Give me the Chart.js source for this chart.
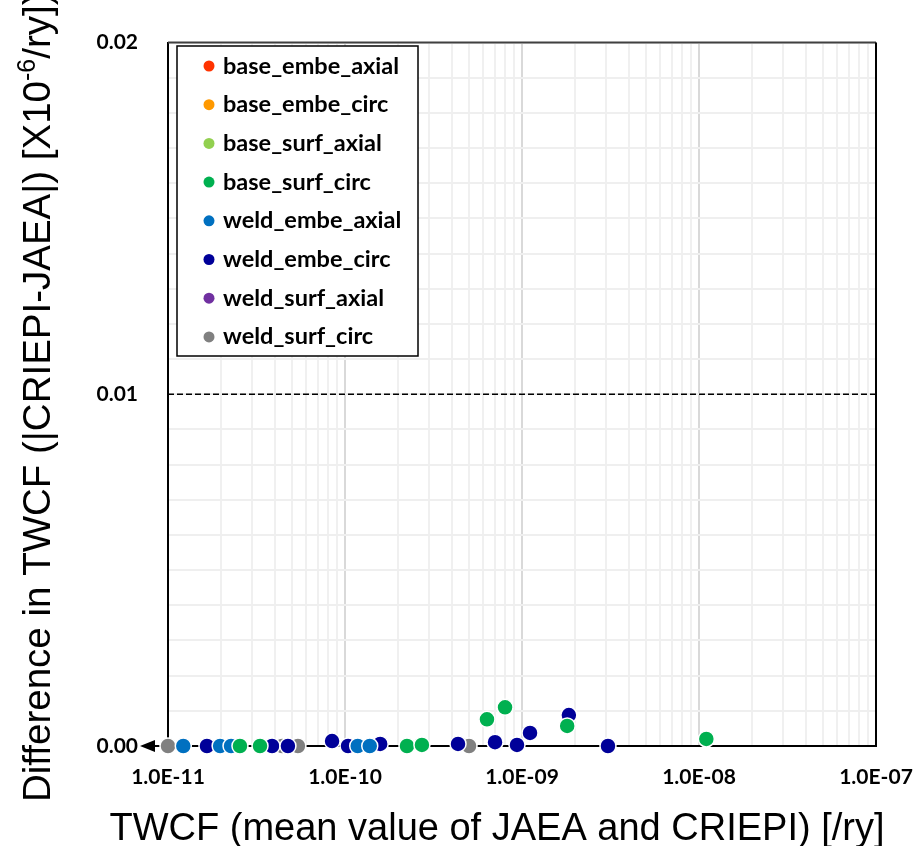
<!DOCTYPE html>
<html>
<head>
<meta charset="utf-8">
<script src="https://cdn.jsdelivr.net/npm/chart.js@4.4.0/dist/chart.umd.min.js"></script>
<style>
  html, body { margin: 0; padding: 0; background: #fff; }
  #wrap { width: 916px; height: 846px; }
</style>
</head>
<body>
<div id="wrap"><canvas id="chart"></canvas></div>
<script>
const seriesNames = [
  'base_embe_axial', 'base_embe_circ', 'base_surf_axial', 'base_surf_circ',
  'weld_embe_axial', 'weld_embe_circ', 'weld_surf_axial', 'weld_surf_circ'
];
const seriesColors = ['#ff3300', '#ff9900', '#92d050', '#00b050', '#0070c0', '#000099', '#7030a0', '#808080'];

// mean TWCF [/ry] and |CRIEPI-JAEA| [x10^-6 /ry] per crack type
const baseEmbeAxialTwcf = [];
const baseEmbeAxialDiff = [];
const baseEmbeCircTwcf = [];
const baseEmbeCircDiff = [];
const baseSurfAxialTwcf = [];
const baseSurfAxialDiff = [];
const baseSurfCircTwcf = [2.55e-11, 3.31e-11, 2.24e-10, 2.72e-10, 6.34e-10, 8.02e-10, 1.80e-9, 1.10e-8];
const baseSurfCircDiff = [0, 0, 0, 0.00003, 0.00076, 0.0011, 0.00057, 0.0002];
const weldEmbeAxialTwcf = [1.22e-11, 1.97e-11, 2.27e-11, 1.18e-10, 1.38e-10];
const weldEmbeAxialDiff = [0, 0, 0, 0, 0];
const weldEmbeCircTwcf = [1.66e-11, 3.87e-11, 4.76e-11, 8.45e-11, 1.04e-10, 1.58e-10, 4.35e-10, 7.04e-10, 9.37e-10, 1.11e-9, 1.84e-9, 3.06e-9];
const weldEmbeCircDiff = [0, 0, 0, 0.00014, 0, 0.00006, 0.00006, 0.00011, 0.00003, 0.00037, 0.00088, 0];
const weldSurfAxialTwcf = [];
const weldSurfAxialDiff = [];
const weldSurfCircTwcf = [1.0e-11, 4.41e-11, 5.42e-11, 5.02e-10];
const weldSurfCircDiff = [0, 0, 0, 0];

const xDecades = [1e-11, 1e-10, 1e-9, 1e-8, 1e-7];
const xTickLabels = ['1.0E-11', '1.0E-10', '1.0E-09', '1.0E-08', '1.0E-07'];
const yLabelValues = [0, 0.01, 0.02];
const yTickLabels = ['0.00', '0.01', '0.02'];

const xTitle = 'TWCF (mean value of JAEA and CRIEPI) [/ry]';
const yTitleParts = [
  { text: 'Difference in TWCF (|CRIEPI-JAEA|) [X10' },
  { text: '-6', sup: true },
  { text: '/ry])' }
];

const allTwcf = [baseEmbeAxialTwcf, baseEmbeCircTwcf, baseSurfAxialTwcf, baseSurfCircTwcf,
  weldEmbeAxialTwcf, weldEmbeCircTwcf, weldSurfAxialTwcf, weldSurfCircTwcf];
const allDiff = [baseEmbeAxialDiff, baseEmbeCircDiff, baseSurfAxialDiff, baseSurfCircDiff,
  weldEmbeAxialDiff, weldEmbeCircDiff, weldSurfAxialDiff, weldSurfCircDiff];

const datasets = seriesNames.map((name, i) => ({
  label: name,
  data: allTwcf[i].map((x, j) => ({ x: x, y: allDiff[i][j] })),
  backgroundColor: seriesColors[i],
  borderColor: '#ffffff',
  pointRadius: 8,
  pointHoverRadius: 8,
  borderWidth: 1.5,
  clip: false
}));

const tickFont = { family: 'Lato', weight: 'bold', size: 21 };
const titleFont = '"Liberation Sans", Arial, sans-serif';

const isDecade = v => xDecades.some(d => Math.abs(v / d - 1) < 1e-6);

const framePlugin = {
  id: 'frame',
  beforeDatasetsDraw(chart) {
    const { ctx, chartArea: a, scales } = chart;
    const y0 = scales.y.getPixelForValue(0);
    const y1 = scales.y.getPixelForValue(0.01);
    ctx.save();
    // dashed reference line at 0.01
    ctx.strokeStyle = '#000';
    ctx.lineWidth = 1.5;
    ctx.setLineDash([6, 3]);
    ctx.beginPath();
    ctx.moveTo(a.left, y1);
    ctx.lineTo(a.right, y1);
    ctx.stroke();
    ctx.setLineDash([]);
    // top and right border
    ctx.lineWidth = 2;
    ctx.strokeStyle = '#404040';
    ctx.beginPath();
    ctx.moveTo(a.left, a.top);
    ctx.lineTo(a.right, a.top);
    ctx.stroke();
    ctx.strokeStyle = '#000';
    ctx.beginPath();
    ctx.moveTo(a.right, a.top);
    ctx.lineTo(a.right, y0 + 1);
    ctx.stroke();
    // x axis with arrow head to the left
    ctx.beginPath();
    ctx.moveTo(a.left - 14, y0);
    ctx.lineTo(a.right, y0);
    ctx.stroke();
    ctx.fillStyle = '#000';
    ctx.beginPath();
    ctx.moveTo(a.left - 28, y0);
    ctx.lineTo(a.left - 13, y0 - 6);
    ctx.lineTo(a.left - 13, y0 + 6);
    ctx.closePath();
    ctx.fill();
    ctx.restore();
  },
  afterDatasetsDraw(chart) {
    const { ctx } = chart;
    ctx.save();
    // legend box
    const bx = 177, by = 46, bw = 241, bh = 310;
    ctx.fillStyle = '#fff';
    ctx.fillRect(bx, by, bw, bh);
    ctx.strokeStyle = '#000';
    ctx.lineWidth = 1.5;
    ctx.strokeRect(bx, by, bw, bh);
    ctx.font = 'bold 23.5px Lato';
    ctx.textBaseline = 'middle';
    ctx.textAlign = 'left';
    chart.data.datasets.forEach((ds, i) => {
      const cy = 66 + i * 38.7;
      ctx.fillStyle = ds.backgroundColor;
      ctx.beginPath();
      ctx.arc(209, cy, 5.5, 0, Math.PI * 2);
      ctx.fill();
      ctx.fillStyle = '#000';
      ctx.fillText(ds.label, 223, cy);
    });

    // axis titles
    ctx.fillStyle = '#000';
    ctx.textBaseline = 'alphabetic';
    ctx.textAlign = 'center';
    ctx.font = '38px ' + titleFont;
    ctx.fillText(xTitle, 497, 840);

    ctx.translate(50, 802);
    ctx.rotate(-Math.PI / 2);
    ctx.textAlign = 'left';
    let x = 0;
    yTitleParts.forEach(p => {
      ctx.font = (p.sup ? '25px ' : '38.5px ') + titleFont;
      ctx.fillText(p.text, x, p.sup ? -15 : 0);
      x += ctx.measureText(p.text).width;
    });
    ctx.restore();
  }
};

new Chart(document.getElementById('chart'), {
  type: 'scatter',
  data: { datasets: datasets },
  plugins: [framePlugin],
  options: {
    responsive: true,
    maintainAspectRatio: false,
    animation: false,
    layout: { padding: { left: 0, right: 40, top: 40, bottom: 0 } },
    plugins: {
      legend: { display: false },
      tooltip: { enabled: false }
    },
    scales: {
      x: {
        type: 'logarithmic',
        min: 1e-11,
        max: 1e-7,
        afterBuildTicks: scale => {
          const ticks = [];
          xDecades.forEach((d, i) => {
            ticks.push({ value: d });
            if (i < xDecades.length - 1) {
              for (let k = 2; k <= 9; k++) ticks.push({ value: d * k });
            }
          });
          scale.ticks = ticks;
        },
        afterFit: scale => {
          scale.height = 100;
          scale.paddingLeft = 0;
          scale.paddingRight = 0;
        },
        border: { display: false },
        grid: {
          drawTicks: false,
          lineWidth: 2,
          color: ctx => (ctx.tick && isDecade(ctx.tick.value)) ? '#d9d9d9' : '#f0f0f0'
        },
        ticks: {
          autoSkip: false,
          maxRotation: 0,
          padding: 19,
          color: '#000',
          font: tickFont,
          callback: v => {
            const k = xDecades.findIndex(d => Math.abs(v / d - 1) < 1e-6);
            return k >= 0 ? xTickLabels[k] : '';
          }
        }
      },
      y: {
        type: 'linear',
        min: 0,
        max: 0.02,
        afterBuildTicks: scale => {
          const ticks = [];
          for (let i = 0; i <= 20; i++) ticks.push({ value: i / 1000 });
          scale.ticks = ticks;
        },
        afterFit: scale => { scale.width = 168; },
        border: { display: true, color: '#000', width: 2 },
        grid: { drawTicks: false, lineWidth: 2, color: '#efefef' },
        ticks: {
          padding: 30,
          color: '#000',
          font: tickFont,
          callback: v => {
            const k = yLabelValues.findIndex(t => Math.abs(t - v) < 1e-9);
            return k >= 0 ? yTickLabels[k] : '';
          }
        }
      }
    }
  }
});
</script>
</body>
</html>
